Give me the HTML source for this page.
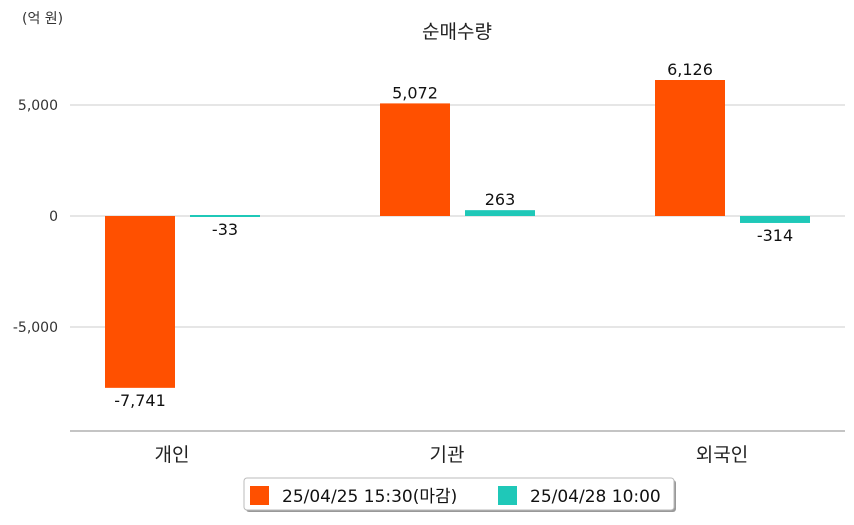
<!DOCTYPE html>
<html><head><meta charset="utf-8"><style>
body{margin:0;background:#fff;}
svg text{font-family:"DejaVu Sans","Noto Sans CJK KR",sans-serif;}
</style></head><body>
<svg id="c" width="854" height="520"></svg>
<script>
const categories=["개인","기관","외국인"];
const seriesA=[-7741,5072,6126];
const seriesB=[-33,263,-314];
const seriesNames=["25/04/25 15:30(마감)","25/04/28 10:00"];
const tickValues=[5000,0,-5000];
const tickLabels=["5,000","0","-5,000"];
const colors=["#ff5000","#1fc8b8"];
const svg=document.getElementById('c');
const NS="http://www.w3.org/2000/svg";
function y(v){return 216-v*111/5000;}
function bandCenter(i){return 182+i*275;}
function mk(t,a,txt){const e=document.createElementNS(NS,t);for(const k in a)e.setAttribute(k,a[k]);if(txt!==undefined)e.textContent=txt;svg.appendChild(e);return e;}
let e;
e=mk('text',{x:22,y:23,'font-size':14,fill:'#333'},'(억 원)');


e=mk('text',{x:457,y:38,'font-size':19,fill:'#222','text-anchor':'middle'},'순매수량');


tickValues.forEach((v,i)=>{
 e=mk('line',{x1:70,x2:845,y1:y(v),y2:y(v),stroke:'#ccc','stroke-width':1});
 
 
 e=mk('text',{x:58,y:y(v)+5,'font-size':14,fill:'#333','text-anchor':'end'},tickLabels[i]);
 
 
});
e=mk('line',{x1:70,x2:845,y1:431,y2:431,stroke:'#888','stroke-width':1});


function fmt(v){return (v<0?'-':'')+Math.abs(v).toLocaleString('en-US');}
categories.forEach((c,i)=>{
 const cx=bandCenter(i);
 [seriesA,seriesB].forEach((s,j)=>{
  const v=s[i];const x=j===0?cx-77:cx+8;const w=70;
  let top=Math.min(y(v),y(0)),h=Math.abs(y(v)-y(0));
  if(h<2){h=2;top=y(0)-1;}
  e=mk('rect',{x:x,y:top,width:w,height:h,fill:colors[j]});
  
  
  const ly=v>=0?top-5:top+h+18;
  e=mk('text',{x:x+w/2,y:ly,'font-size':16,fill:'#111','text-anchor':'middle'},fmt(v));
  
  
 });
 e=mk('text',{x:cx-10,y:461,'font-size':19,fill:'#222','text-anchor':'middle'},c);
 
 
});
e=mk('rect',{x:246,y:480,width:430,height:32,rx:3,fill:'#999'});


e=mk('rect',{x:244,y:478,width:430,height:32,rx:3,fill:'#fff',stroke:'#bbb'});


const lx=[250,498];
seriesNames.forEach((n,j)=>{
 e=mk('rect',{x:lx[j],y:486,width:19,height:19,fill:colors[j]});
 
 
 e=mk('text',{x:lx[j]+32,y:502,'font-size':17,fill:'#111'},n);
 
 
});
</script>
</body></html>
